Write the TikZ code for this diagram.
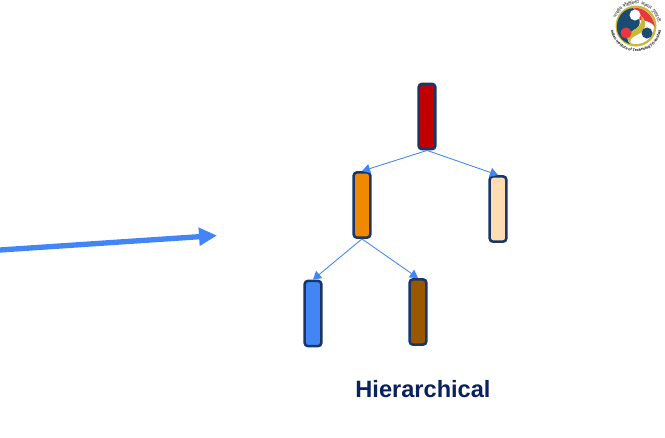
\documentclass[tikz,border=0pt]{standalone}
\usepackage{fontspec}
\setmainfont{Liberation Sans}
\newfontfamily\devafont[Script=Devanagari]{Noto Sans}
\usetikzlibrary{arrows.meta,decorations.text,calc}
\definecolor{edgeblue}{HTML}{4285F4}
\definecolor{boxnavy}{HTML}{1A3668}
\definecolor{titlenavy}{HTML}{0B2060}
\definecolor{logoyellow}{HTML}{C9B93A}
\definecolor{logonavy}{HTML}{1B4B72}
\definecolor{logored}{HTML}{E8383D}
\tikzset{
	levelbox/.style={draw=boxnavy, line width=1.9pt, rounded corners=2.5pt, minimum width=12.5pt, minimum height=49pt, inner sep=0pt},
	treeedge/.style={edgeblue, line width=0.65pt, -{Triangle[length=6pt,width=7pt]}}
}
\begin{document}
\begin{tikzpicture}[x=0.75pt,y=-0.75pt]
	\useasboundingbox (0,0) rectangle (665,437);
	
	% Boxes
	\node[levelbox, fill={rgb,255:red,192;green,0;blue,0}] (root) at (427,116.5) {};
	\node[levelbox, fill={rgb,255:red,240;green,136;blue,0}] (left) at (362,205) {};
	\node[levelbox, fill={rgb,255:red,255;green,220;blue,178}] (right) at (498,209) {};
	\node[levelbox, fill=edgeblue] (leftleft) at (313,313.5) {};
	\node[levelbox, fill={rgb,255:red,153;green,87;blue,0}] (leftright) at (418,312) {};
	
	% Edges
	\draw[treeedge] (root.south) -- (left.north);
	\draw[treeedge] (root.south) -- (right.north);
	\draw[treeedge] (left.south) -- (leftleft.north);
	\draw[treeedge] (left.south) -- (leftright.north);
	
	% Big arrow
	\coordinate (arrowstart) at (0,250);
	\coordinate (arrowend) at (217,235.5);
	\draw[edgeblue, line width=4pt, -{Triangle[length=13.5pt,width=13pt]}] (arrowstart) -- (arrowend);
	
	% Title
	\node[text=titlenavy, font=\bfseries\fontsize{17.7}{20}\selectfont] (title) at (423,389) {Hierarchical};
	
	% Logo
	\coordinate (logo) at (636,26);
	\fill[logoyellow] (logo) circle[radius=20.5];
	\fill[white] (logo) circle[radius=18];
	\fill[logonavy] (633,8) .. controls (622,9) and (616,19) .. (617,29) .. controls (618,37) and (623,42) .. (630,44) .. controls (623,36) and (632,31) .. (637,28) .. controls (643,23) and (638,13) .. (633,8);
	\fill[logored] (634,8) .. controls (643,7) and (653,14) .. (655,27) .. controls (650,20) and (644,21) .. (640,20) .. controls (638,16) and (636,12) .. (634,8);
	\fill[logoyellow] (637,28) .. controls (643,23) and (642,17) .. (640,15) .. controls (650,22) and (644,32) .. (637,35) .. controls (632,37) and (629,40) .. (631,44) .. controls (624,38) and (631,31) .. (637,28);
	\fill[white] (635,15) circle[radius=5.5];
	\fill[logored] (626,33) circle[radius=5.5];
	\fill[logonavy] (647,33) circle[radius=5.5];
	\path[decorate, decoration={text along path, text={|\fontsize{2.8}{2.8}\selectfont\bfseries|Indian Institute of Technology Guwahati}, text align=center}] ($(logo)+(172:25.5)$) arc[start angle=172, end angle=8, radius=25.5];
	\foreach \ang/\wrd in {143/भारतीय, 103/प्रौद्योगिकी, 62/संस्थान, 27/गुवाहाटी}
		\node[font=\devafont\fontsize{3.4}{3.4}\selectfont, text=black!85, inner sep=0pt, rotate=\ang-90] at ($(logo)+(-\ang:23)$) {\wrd};
\end{tikzpicture}
\end{document}
